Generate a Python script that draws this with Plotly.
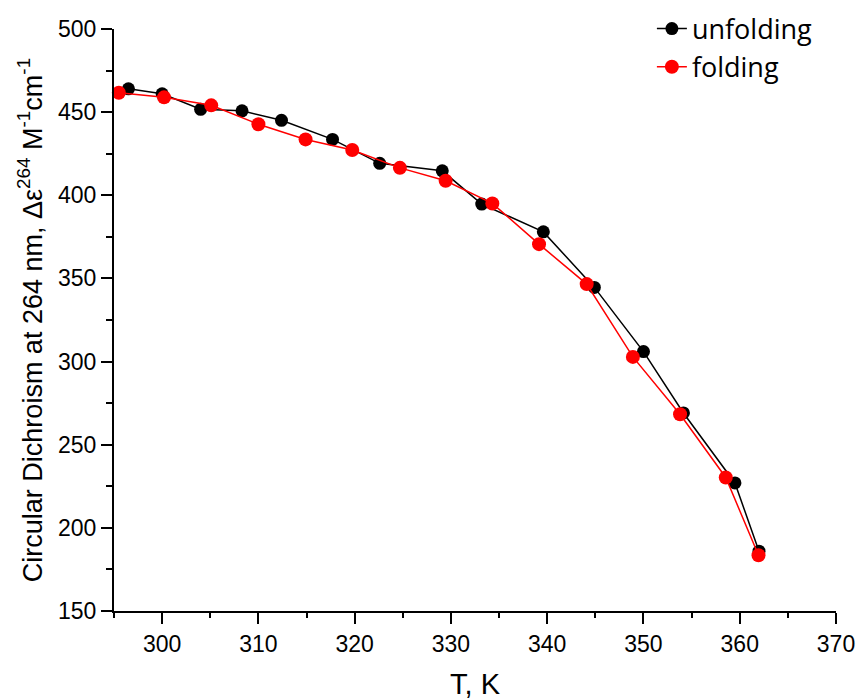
import plotly.graph_objects as go

# Data
unfold_T = [296.5, 300.0, 304.0, 308.3, 312.4, 317.7, 322.6, 329.1, 333.2, 339.6, 344.9, 350.0, 354.15, 359.5, 362.0]
unfold_v = [464.0, 461.0, 451.7, 450.8, 445.1, 433.6, 419.2, 414.7, 394.7, 378.0, 344.6, 306.0, 269.1, 227.0, 186.0]
fold_T = [295.5, 300.2, 305.1, 310.0, 314.9, 319.75, 324.7, 329.45, 334.3, 339.15, 344.1, 348.9, 353.8, 358.55, 361.95]
fold_v = [461.7, 458.9, 454.1, 442.7, 433.6, 427.2, 416.5, 408.7, 395.1, 370.6, 346.6, 302.8, 268.3, 230.3, 183.5]

FONT = "Arial, Liberation Sans, sans-serif"

fig = go.Figure()
fig.add_trace(go.Scatter(
    x=unfold_T, y=unfold_v, mode="lines+markers", name="unfolding",
    line=dict(color="#000000", width=1.5),
    marker=dict(color="#000000", size=13, symbol="circle"),
    cliponaxis=False,
))
fig.add_trace(go.Scatter(
    x=fold_T, y=fold_v, mode="lines+markers", name="folding",
    line=dict(color="#ff0000", width=1.5),
    marker=dict(color="#ff0000", size=14, symbol="circle"),
    cliponaxis=False,
))

fig.update_layout(
    width=859, height=700,
    margin=dict(l=114, r=23, t=29, b=89, autoexpand=False),
    paper_bgcolor="white", plot_bgcolor="white",
    font=dict(family=FONT, color="#000000", size=22),
    showlegend=True,
    legend=dict(
        x=0.745, y=1.042, xanchor="left", yanchor="top",
        bgcolor="rgba(0,0,0,0)", borderwidth=0,
        font=dict(family="Open Sans, Arial, sans-serif", size=27, color="#000000"),
        tracegroupgap=0,
    ),
    xaxis=dict(
        range=[295, 370], dtick=10, tick0=300, automargin=False,
        showline=True, linecolor="#000000", linewidth=2,
        ticks="outside", ticklen=11, tickwidth=2, tickcolor="#000000",
        minor=dict(dtick=5, ticks="outside", ticklen=5, tickwidth=2, tickcolor="#000000", showgrid=False),
        showgrid=False, zeroline=False, mirror=False,
        tickfont=dict(size=23),
        title=dict(text="T, K", font=dict(size=29), standoff=18),
    ),
    yaxis=dict(
        range=[150, 500], dtick=50, tick0=150, automargin=False,
        showline=True, linecolor="#000000", linewidth=2,
        ticks="outside", ticklen=11, tickwidth=2, tickcolor="#000000",
        minor=dict(dtick=25, ticks="outside", ticklen=6, tickwidth=2, tickcolor="#000000", showgrid=False),
        showgrid=False, zeroline=False, mirror=False,
        tickfont=dict(size=23),
        title=dict(text="Circular Dichroism at 264 nm, \u0394\u03b5<sup>264</sup> M<sup>-1</sup>cm<sup>-1</sup>",
                   font=dict(size=27), standoff=8),
    ),
)

fig.write_html("out.html")
